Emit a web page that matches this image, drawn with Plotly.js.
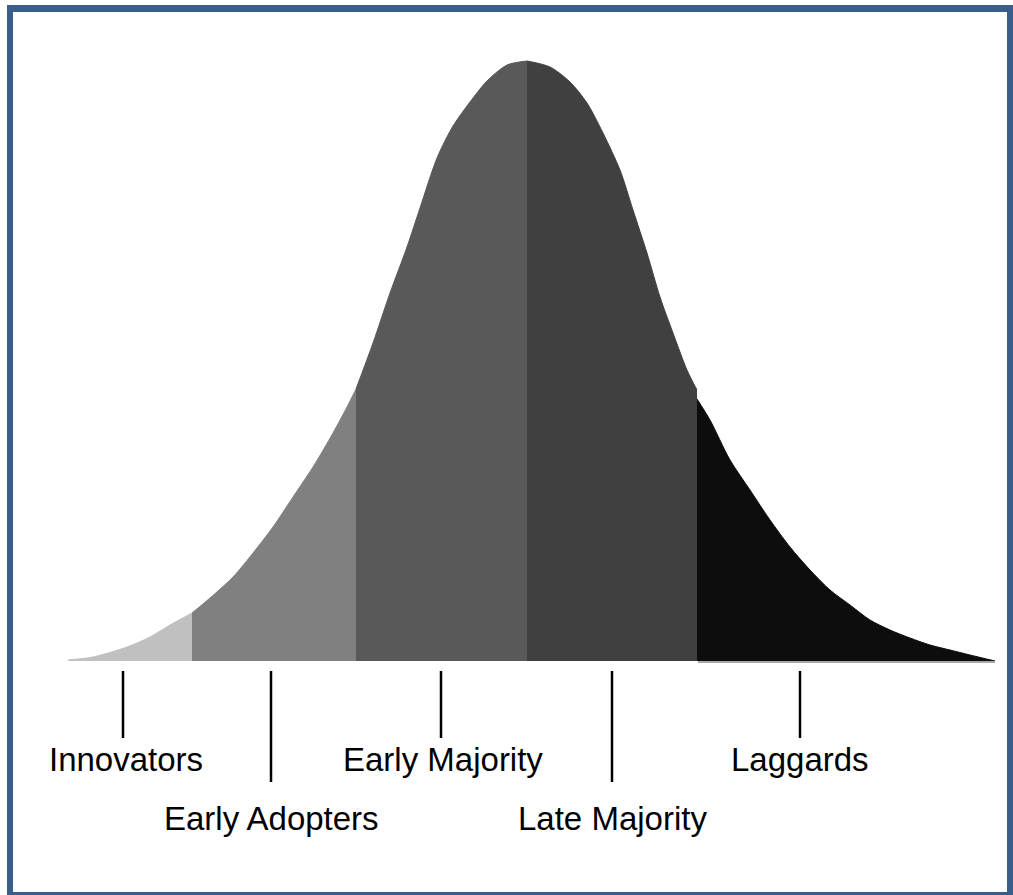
<!DOCTYPE html>
<html>
<head>
<meta charset="utf-8">
<script src="https://cdn.plot.ly/plotly-3.0.1.min.js"></script>
<style>
  html, body { margin: 0; padding: 0; background: #ffffff; }
  #chart { width: 1013px; height: 895px; }
</style>
</head>
<body>
<div id="chart"></div>
<script>
// Adoption curve segments (x = adoption time position, h = curve height)
const innovatorsX     = [68, 93, 127, 150, 170, 192];
const innovatorsH     = [1, 4, 14, 24, 36, 48];
const earlyAdoptersX  = [192, 210, 233, 253, 273, 293, 313, 333, 347, 356];
const earlyAdoptersH  = [48, 63, 84, 108, 134, 164, 194, 228, 254, 272];
const earlyMajorityX  = [356, 373, 390, 407, 420, 437, 453, 470, 487, 507, 527];
const earlyMajorityH  = [272, 318, 368, 414, 453, 503, 535, 559, 580, 596, 600];
const lateMajorityX   = [527, 550, 570, 587, 603, 620, 633, 647, 660, 673, 687, 697];
const lateMajorityH   = [600, 594, 579, 558, 528, 491, 451, 408, 364, 328, 291, 271];
const laggardsX       = [697, 710, 730, 750, 770, 790, 810, 830, 850, 870, 890, 910, 930, 950, 970, 995];
const laggardsH       = [262, 241, 201, 171, 141, 114, 91, 71, 56, 41, 31, 23, 16, 11, 6, 0];

// Category labels and where they sit on the x axis
const labels  = ["Innovators", "Early Adopters", "Early Majority", "Late Majority", "Laggards"];
const labelX  = [123, 271, 441, 612, 800];
const labelRow = [0, 1, 0, 1, 0];

const segColors = ["#c0c0c0", "#808080", "#595959", "#404040", "#0d0d0d"];
const segs = [
  [innovatorsX, innovatorsH],
  [earlyAdoptersX, earlyAdoptersH],
  [earlyMajorityX, earlyMajorityH],
  [lateMajorityX, lateMajorityH],
  [laggardsX, laggardsH]
];

const traces = segs.map((s, i) => ({
  type: "scatter",
  mode: "lines",
  x: s[0],
  y: s[1],
  fill: "tozeroy",
  fillcolor: segColors[i],
  line: { color: segColors[i], width: 1, shape: "spline", smoothing: 0.8 },
  hoverinfo: "skip"
}));

// light baseline under the tail
traces.push({
  type: "scatter", mode: "lines",
  x: [laggardsX[0] + 1, laggardsX[laggardsX.length - 1]],
  y: [-1, -1],
  line: { color: "#a8a8a8", width: 2 },
  hoverinfo: "skip"
});

const FONT = "Liberation Sans, Arial, Helvetica, sans-serif";
const rowCenter = [-98, -157];
const rowTickEnd = [-77, -121];

const shapes = [];
const annotations = [];
labels.forEach((lab, i) => {
  const r = labelRow[i];
  shapes.push({
    type: "line", xref: "x", yref: "y",
    x0: labelX[i], x1: labelX[i], y0: -10, y1: rowTickEnd[r],
    line: { color: "#000000", width: 2.5 }
  });
  annotations.push({
    xref: "x", yref: "y",
    x: labelX[i] + (i === 0 ? 3 : (i === 2 ? 2 : 0)),
    y: rowCenter[r],
    text: lab, showarrow: false,
    xanchor: "center", yanchor: "middle",
    font: { family: FONT, size: 33, color: "#000000" }
  });
});

// blue frame
const frame = "#3a5e8b";
shapes.push({ type: "rect", xref: "paper", yref: "paper", x0: 7/1013, x1: 13/1013, y0: 0, y1: 1 - 5/895, fillcolor: frame, line: { width: 0 } });
shapes.push({ type: "rect", xref: "paper", yref: "paper", x0: 7/1013, x1: 1, y0: 1 - 12/895, y1: 1 - 5/895, fillcolor: frame, line: { width: 0 } });
shapes.push({ type: "rect", xref: "paper", yref: "paper", x0: 1007/1013, x1: 1, y0: 0, y1: 1 - 5/895, fillcolor: frame, line: { width: 0 } });
shapes.push({ type: "rect", xref: "paper", yref: "paper", x0: 7/1013, x1: 1, y0: 0, y1: 3/895, fillcolor: frame, line: { width: 0 } });

const layout = {
  width: 1013, height: 895,
  margin: { l: 0, r: 0, t: 0, b: 0, pad: 0 },
  paper_bgcolor: "#ffffff", plot_bgcolor: "#ffffff",
  showlegend: false,
  xaxis: { range: [0, 1013], visible: false, fixedrange: true },
  yaxis: { range: [-234, 661], visible: false, fixedrange: true },
  shapes: shapes,
  annotations: annotations
};

Plotly.newPlot("chart", traces, layout, { displayModeBar: false, staticPlot: true });
</script>
</body>
</html>
